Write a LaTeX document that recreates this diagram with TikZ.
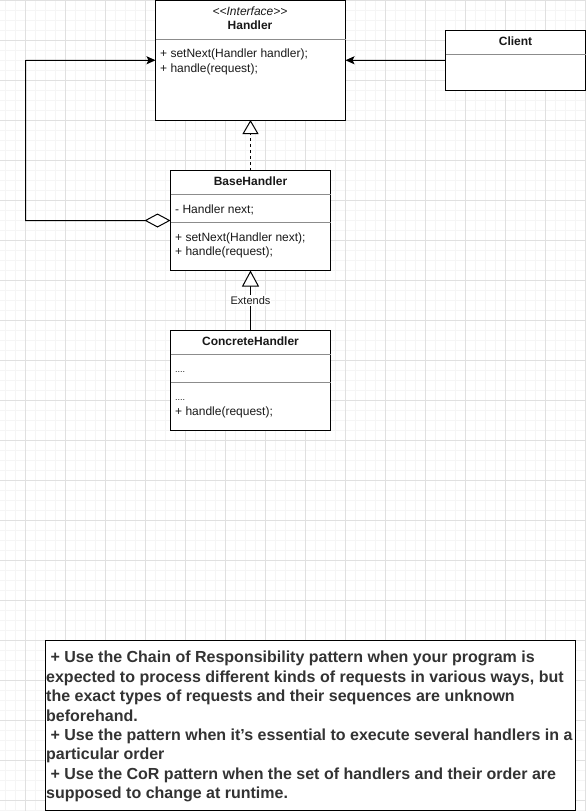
\documentclass[tikz,border=0pt]{standalone}
\usepackage{fontspec}
\setmainfont{Liberation Sans}
\usetikzlibrary{arrows.meta,calc}

\begin{document}
\begin{tikzpicture}[x=1pt,y=-1pt,
    minorgrid/.style={draw=black!4,line width=1pt},
    majorgrid/.style={draw=black!12,line width=1pt},
    umlbox/.style={draw=black,line width=1pt,fill=white,inner sep=0pt,outer sep=0pt},
    divider/.style={draw=black!45,line width=1pt},
    umltitle/.style={font=\fontsize{12}{14}\selectfont\bfseries,text=black!90,anchor=mid},
    umlmember/.style={font=\fontsize{12}{14}\selectfont,text=black!90,anchor=mid west,inner sep=0pt},
    conn/.style={line width=1pt,draw=black},
    filledtip/.style={-{Stealth[length=9pt,width=8pt,inset=2pt]}},
    notetext/.style={font=\fontsize{16}{19.4}\selectfont\bfseries,text=black!80,align=left,anchor=north west,inner sep=0pt}
]
    \useasboundingbox (0,0) rectangle (586,811);

    % Background grid
    \fill[white] (0,0) rectangle (586,811);
    \foreach \x in {5,15,...,585} \draw[minorgrid] (\x,0) -- (\x,811);
    \foreach \y in {10,20,...,810} \draw[minorgrid] (0,\y) -- (586,\y);
    \foreach \x in {25,65,...,585} \draw[majorgrid] (\x,0) -- (\x,811);
    \foreach \y in {0,40,...,800} \draw[majorgrid] (0,\y) -- (586,\y);

    % Handler interface
    \node[umlbox,anchor=north west,minimum width=190pt,minimum height=119.5pt] (handler) at (155.5,0.5) {};
    \draw[divider] ($(handler.north west)+(0,39)$) -- ($(handler.north east)+(0,39)$);
    \node[umltitle,font=\fontsize{12}{14}\selectfont\itshape] (stereo) at (250,13) {{<}{<}Interface{>}{>}};
    \node[umltitle] (handlername) at (250,27) {Handler};
    \node[umlmember] (hsetnext) at (160,54.5) {+ setNext(Handler handler);};
    \node[umlmember] (hhandle) at (160,69.5) {+ handle(request);};

    % Client
    \node[umlbox,anchor=north west,minimum width=140pt,minimum height=60pt] (client) at (445.5,30.5) {};
    \draw[divider] ($(client.north west)+(0,24)$) -- ($(client.north east)+(0,24)$);
    \node[umltitle] (clientname) at (515.5,43) {Client};

    % BaseHandler
    \node[umlbox,anchor=north west,minimum width=160pt,minimum height=100pt] (base) at (170.5,170.5) {};
    \draw[divider] ($(base.north west)+(0,24)$) -- ($(base.north east)+(0,24)$);
    \draw[divider] ($(base.north west)+(0,52)$) -- ($(base.north east)+(0,52)$);
    \node[umltitle] (basename) at (250.5,183) {BaseHandler};
    \node[umlmember] (bnext) at (175,210.5) {- Handler next;};
    \node[umlmember] (bsetnext) at (175,238.5) {+ setNext(Handler next);};
    \node[umlmember] (bhandle) at (175,252.5) {+ handle(request);};

    % ConcreteHandler
    \node[umlbox,anchor=north west,minimum width=160pt,minimum height=100pt] (concrete) at (170.5,330.5) {};
    \draw[divider] ($(concrete.north west)+(0,24)$) -- ($(concrete.north east)+(0,24)$);
    \draw[divider] ($(concrete.north west)+(0,52)$) -- ($(concrete.north east)+(0,52)$);
    \node[umltitle] (concretename) at (250.5,343) {ConcreteHandler};
    \node[umlmember,font=\fontsize{9}{10}\selectfont] (cfield) at (175,370) {....};
    \node[umlmember,font=\fontsize{9}{10}\selectfont] (cdots) at (175,397.5) {....};
    \node[umlmember] (chandle) at (175,412.5) {+ handle(request);};

    % Connectors
    \draw[conn,filledtip] (client.west) -- (handler.east);
    \draw[conn,dash pattern=on 3pt off 3pt,-{Triangle[fill=white,length=14pt,width=16pt]}] (base.north) -- (handler.south);
    \draw[conn,-{Triangle[fill=white,length=16pt,width=17pt]}] (concrete.north) -- node[fill=white,inner sep=1pt,font=\fontsize{11}{13}\selectfont,text=black!90] (extends) {Extends} (base.south);
    \coordinate (looptop) at (25.5,60.5);
    \draw[conn,{Diamond[fill=white,length=26pt,width=14pt]}-{Stealth[length=9pt,width=8pt,inset=2pt]}] (base.west) -| (looptop) -- (handler.west);

    % Notes
    \node[umlbox,anchor=north west,minimum width=530pt,minimum height=169.5pt] (notes) at (45.5,640.5) {};
    \node[notetext] (notestext) at (46,651) {\ + Use the Chain of Responsibility pattern when your program is\\
expected to process different kinds of requests in various ways, but\\
the exact types of requests and their sequences are unknown\\
beforehand.\\
\ + Use the pattern when it’s essential to execute several handlers in a\\
particular order\\
\ + Use the CoR pattern when the set of handlers and their order are\\
supposed to change at runtime.};
\end{tikzpicture}
\end{document}
